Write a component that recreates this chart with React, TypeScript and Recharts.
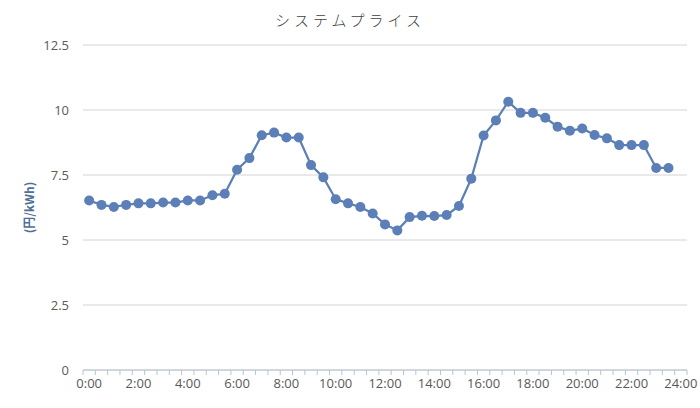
import { LineChart, Line, XAxis, YAxis, CartesianGrid } from "recharts";

document.body.style.margin = "0";

const times = [
  "0:00", "0:30", "1:00", "1:30", "2:00", "2:30", "3:00", "3:30",
  "4:00", "4:30", "5:00", "5:30", "6:00", "6:30", "7:00", "7:30",
  "8:00", "8:30", "9:00", "9:30", "10:00", "10:30", "11:00", "11:30",
  "12:00", "12:30", "13:00", "13:30", "14:00", "14:30", "15:00", "15:30",
  "16:00", "16:30", "17:00", "17:30", "18:00", "18:30", "19:00", "19:30",
  "20:00", "20:30", "21:00", "21:30", "22:00", "22:30", "23:00", "23:30",
  "24:00",
];

// 円/kWh, 30-minute blocks (no value at 24:00)
const prices = [
  6.52, 6.35, 6.27, 6.35, 6.41, 6.41, 6.44, 6.44,
  6.52, 6.52, 6.72, 6.78, 7.7, 8.15, 9.03, 9.13,
  8.94, 8.94, 7.88, 7.41, 6.57, 6.41, 6.27, 6.02,
  5.6, 5.37, 5.88, 5.93, 5.92, 5.96, 6.31, 7.36,
  9.02, 9.6, 10.32, 9.89, 9.89, 9.7, 9.36, 9.2,
  9.29, 9.04, 8.91, 8.65, 8.65, 8.65, 7.77, 7.77,
];

const yTicks = [0, 2.5, 5, 7.5, 10, 12.5];

const data = times.map((t, i) => ({ time: t, price: prices[i] ?? null }));

const HALF = 6.16;

function TimeTick(props: any) {
  const { x, y, payload, index } = props;
  return (
    <g>
      <line x1={x - HALF} y1={y - 8} x2={x - HALF} y2={y - 3} stroke="#b8c4d0" />
      {index === times.length - 1 && (
        <line x1={x + HALF} y1={y - 8} x2={x + HALF} y2={y - 3} stroke="#b8c4d0" />
      )}
      {index % 4 === 0 && (
        <text x={x} y={y + 10} textAnchor="middle" fill="#595959" fontSize={13}
          fontFamily="'Open Sans', 'Noto Sans', sans-serif">
          {payload.value}
        </text>
      )}
    </g>
  );
}

export default function App() {
  return (
    <div style={{ width: 700, height: 408, background: "#fff", position: "relative" }}>
      <div style={{
        position: "absolute", top: 9, left: 0, width: 700, textAlign: "center",
        fontFamily: "'Noto Sans CJK JP', sans-serif", fontWeight: 300, fontSize: 15,
        letterSpacing: 4, color: "#404040",
      }}>
        システムプライス
      </div>
      <LineChart width={700} height={408} data={data}
        margin={{ top: 45, right: 13, bottom: 0, left: 0 }}>
        <CartesianGrid vertical={false} stroke="#d4d4d4" />
        <XAxis dataKey="time" interval={0} height={38} tick={<TimeTick />}
          tickLine={false} axisLine={{ stroke: "#b8c4d0" }}
          padding={{ left: HALF, right: HALF }} />
        <YAxis width={83} domain={[0, 12.5]} ticks={yTicks} tickLine={false} axisLine={false}
          tickMargin={8} tick={{ fill: "#595959", fontSize: 13, fontFamily: "'Open Sans', sans-serif" }}
          label={{ value: "(円/kWh)", angle: -90, position: "insideLeft", dx: 25,
            style: { fill: "#4f6f94", fontSize: 12, fontWeight: 700, textAnchor: "middle",
              fontFamily: "'Noto Sans CJK JP', sans-serif" } }} />
        <Line dataKey="price" stroke="#5b7fb6" strokeWidth={2.25} isAnimationActive={false}
          dot={{ r: 5, fill: "#5b7fb6", stroke: "none" }} />
      </LineChart>
    </div>
  );
}
